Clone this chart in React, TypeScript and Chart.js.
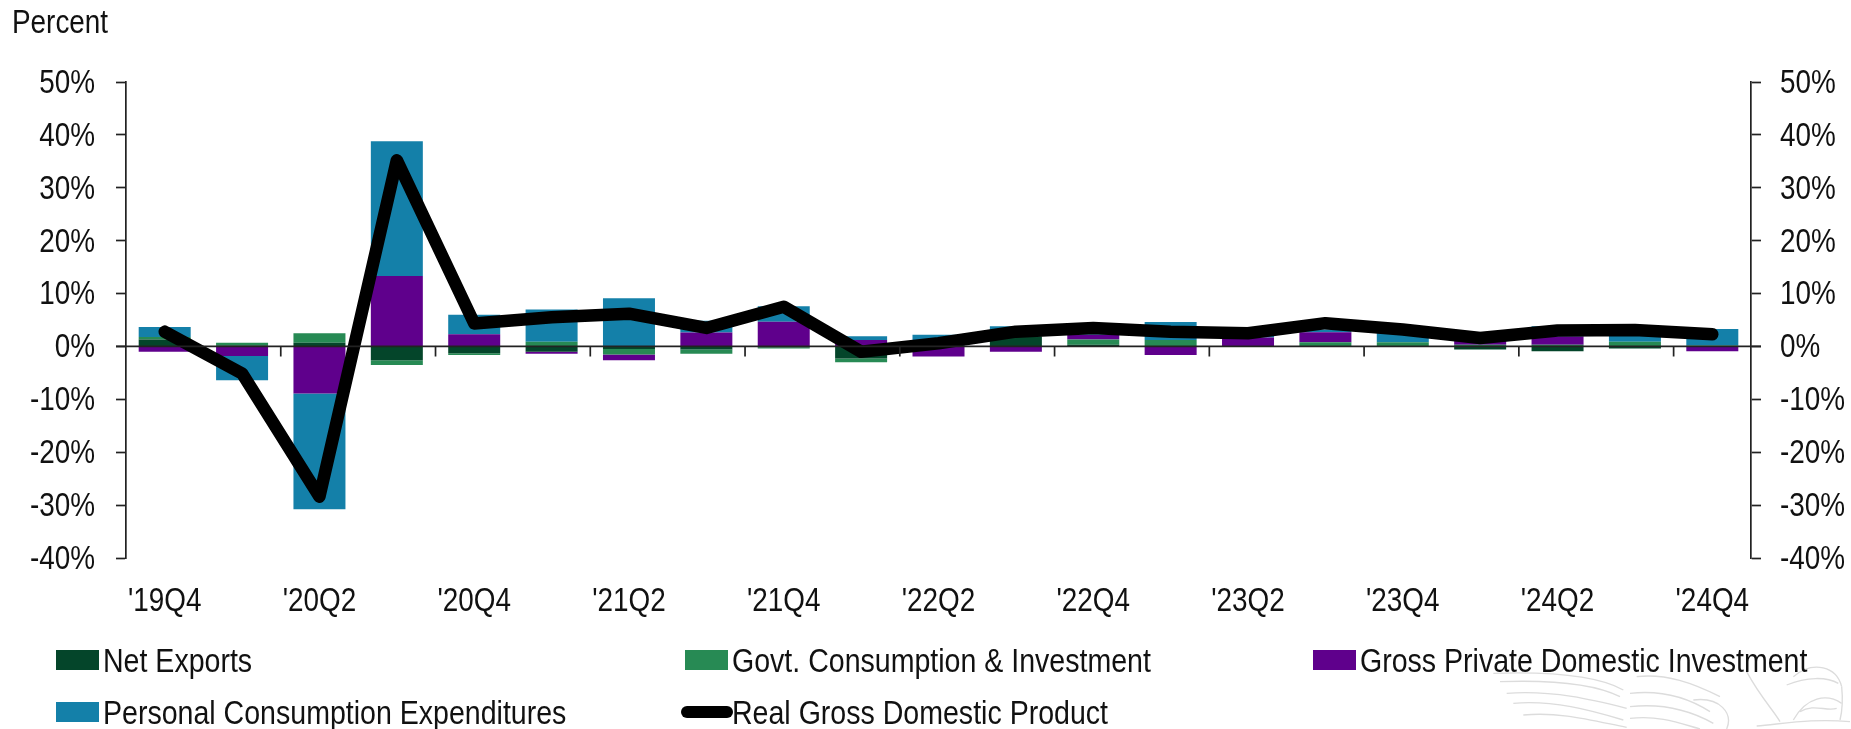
import React, { useEffect, useRef } from "react";
import { Chart, registerables } from "chart.js";

Chart.register(...registerables);

const categories = ["'19Q4","'20Q1","'20Q2","'20Q3","'20Q4","'21Q1","'21Q2","'21Q3","'21Q4","'22Q1","'22Q2","'22Q3","'22Q4","'23Q1","'23Q2","'23Q3","'23Q4","'24Q1","'24Q2","'24Q3","'24Q4"];
const netExports = [1.3,0.2,0.7,-2.6,-1.3,-1.0,-0.5,-0.6,-0.2,-2.3,0.0,1.9,0.3,0.1,0.0,0.1,0.1,-0.6,-0.9,-0.4,0.0];
const govt = [0.5,0.5,1.8,-0.9,-0.3,0.9,-1.0,-0.8,-0.2,-0.7,0.0,0.4,1.0,1.1,0.1,0.7,0.7,0.3,0.3,0.9,0.2];
const gpdi = [-1.0,-1.8,-8.9,13.3,2.3,-0.4,-1.1,2.65,4.65,1.2,-1.9,-1.0,0.9,-1.6,1.6,1.9,0.0,0.9,1.6,0.0,-0.9];
const pce = [1.9,-4.6,-21.9,25.5,3.7,6.1,9.1,2.2,2.95,0.75,2.2,1.5,0.8,3.4,0.5,0.5,2.5,0.6,1.9,2.2,3.1];
const realGdp = [2.8,-5.1,-28.4,35.2,4.35,5.5,6.2,3.5,7.5,-1.0,0.6,2.8,3.5,2.8,2.5,4.4,3.2,1.6,3.0,3.1,2.3];
const yTicks = [50,40,30,20,10,0,-10,-20,-30,-40];
const legendRows = [
  ["Net Exports", "Govt. Consumption & Investment", "Gross Private Domestic Investment"],
  ["Personal Consumption Expenditures", "Real Gross Domestic Product"],
];
const unitLabel = "Percent";

const axisColor = "#222222";
const textColor = "#111111";
const fontFamily = "'Liberation Sans', Arial, sans-serif";
const fontSize = 34;
const textSqueeze = 0.82;

const overlay = {
  id: "overlay",
  beforeDraw(chart: any) {
    // faint eagle watermark in the lower right corner
    const { ctx } = chart;
    ctx.save();
    ctx.translate(1480, 640);
    ctx.scale(1 / 3, 1 / 3);
    ctx.strokeStyle = "#dcdcdc";
    ctx.lineWidth = 4;
    const curves = [
      [40,100,200,95,350,105,430,150],
      [60,125,200,120,340,130,420,170],
      [80,160,220,150,340,180,440,205],
      [100,190,220,180,330,210,430,240],
      [130,225,240,215,330,240,440,262],
      [470,110,560,100,640,130,720,170],
      [450,160,540,150,620,170,690,215],
      [450,200,540,190,620,205,700,250],
      [450,235,540,225,600,250,660,267],
      [640,180,720,170,760,220,740,267],
      [800,95,840,170,880,210,900,245],
      [940,110,1000,60,1070,80,1085,140],
      [920,135,980,110,1040,110,1075,130],
      [1085,140,1090,190,1085,220,1080,240],
      [940,240,980,170,1040,160,1085,190],
      [960,215,1000,190,1040,215,1070,205],
      [830,258,920,250,1000,235,1110,245],
    ];
    curves.forEach(([a, b, c, d, e, f, g, h]) => {
      ctx.beginPath();
      ctx.moveTo(a, b);
      ctx.bezierCurveTo(c, d, e, f, g, h);
      ctx.stroke();
    });
    ctx.restore();
  },
  afterDatasetsDraw(chart: any) {
    const { ctx, scales } = chart;
    const x = scales.x, y = scales.y;
    const zero = y.getPixelForValue(0);
    ctx.save();
    ctx.strokeStyle = axisColor;
    ctx.lineWidth = 1.7;
    ctx.beginPath();
    ctx.moveTo(x.left - 10, zero);
    ctx.lineTo(x.right + 10, zero);
    const step = (x.right - x.left) / categories.length;
    for (let i = 2; i < categories.length; i += 2) {
      const px = x.left + step * i;
      ctx.moveTo(px, zero);
      ctx.lineTo(px, zero + 10);
    }
    ctx.stroke();
    ctx.restore();
  },
  afterDraw(chart: any) {
    const { ctx } = chart;
    const colLeft = [56, 685, 1313];
    const rowMid = [660, 712];
    ctx.save();
    ctx.font = `${fontSize}px ${fontFamily}`;
    ctx.textBaseline = "middle";
    ctx.textAlign = "left";
    legendRows.forEach((row, r) => {
      row.forEach((label, c) => {
        const d = chart.data.datasets.find((s: any) => s.label === label);
        const left = colLeft[c], cy = rowMid[r];
        if (d.type === "line") {
          ctx.strokeStyle = d.borderColor;
          ctx.lineWidth = 12;
          ctx.lineCap = "round";
          ctx.beginPath();
          ctx.moveTo(left + 2, cy);
          ctx.lineTo(left + 42, cy);
          ctx.stroke();
        } else {
          ctx.fillStyle = d.backgroundColor;
          ctx.fillRect(left, cy - 10, 43, 20);
        }
        ctx.fillStyle = textColor;
        ctx.save();
        ctx.translate(left + 47, cy + 1);
        ctx.scale(1.024, 1);
        ctx.fillText(label, 0, 0);
        ctx.restore();
      });
    });
    ctx.fillStyle = textColor;
    ctx.fillText(unitLabel, 12, 22);
    ctx.restore();
  },
};

const yAxis = (position: string, width: number, padding: number) => ({
  min: -40,
  max: 50,
  position,
  afterBuildTicks(a: any) { a.ticks = yTicks.map((value) => ({ value })); },
  afterFit(a: any) { a.width = width; },
  grid: { drawOnChartArea: false, tickColor: axisColor, tickLength: 10, tickWidth: 1.7 },
  border: { color: axisColor, width: 1.7 },
  ticks: { padding, color: textColor, font: { family: fontFamily, size: fontSize }, callback: (v: any) => `${v}%` },
});

export default function App() {
  const ref = useRef<HTMLCanvasElement>(null);
  useEffect(() => {
    // The reference text is tall and narrow: draw all text squeezed horizontally.
    const rawCtx: any = ref.current!.getContext("2d");
    const fill = rawCtx.fillText.bind(rawCtx);
    rawCtx.fillText = (t: string, x: number, y: number, m?: number) => {
      rawCtx.save();
      rawCtx.translate(x, y + 1.5);
      rawCtx.scale(textSqueeze, 1);
      if (m === undefined) fill(t, 0, 0);
      else fill(t, 0, 0, m);
      rawCtx.restore();
    };
    const chart = new Chart(ref.current!, {
      type: "bar",
      data: {
        labels: categories,
        datasets: [
          { label: "Net Exports", data: netExports, backgroundColor: "#04452a", stack: "s", order: 1 },
          { label: "Govt. Consumption & Investment", data: govt, backgroundColor: "#278a54", stack: "s", order: 1 },
          { label: "Gross Private Domestic Investment", data: gpdi, backgroundColor: "#5f008c", stack: "s", order: 1 },
          { label: "Personal Consumption Expenditures", data: pce, backgroundColor: "#1480a9", stack: "s", order: 1 },
          { type: "line", label: "Real Gross Domestic Product", data: realGdp, borderColor: "#000000", backgroundColor: "#000000", borderWidth: 12.5, pointRadius: 0, tension: 0, borderCapStyle: "round", borderJoinStyle: "round", order: 0 },
        ],
      } as any,
      options: {
        animation: false,
        responsive: false,
        layout: { padding: { top: 82, left: 0, right: 0, bottom: 0 } },
        plugins: { legend: { display: false }, tooltip: { enabled: false }, title: { display: false } },
        datasets: { bar: { barPercentage: 1, categoryPercentage: 0.672 } },
        scales: {
          x: {
            stacked: true,
            afterFit(a: any) { a.height = 171; },
            grid: { display: false },
            border: { display: false },
            ticks: {
              autoSkip: false,
              maxRotation: 0,
              padding: 14,
              color: textColor,
              font: { family: fontFamily, size: fontSize },
              callback(_v: any, i: number) { return i % 2 === 0 ? categories[i] : ""; },
            },
          },
          y: { stacked: true, ...yAxis("left", 126, 21) },
          y2: yAxis("right", 100, 19),
        },
      } as any,
      plugins: [overlay],
    });
    return () => chart.destroy();
  }, []);
  return (
    <div style={{ position: "absolute", left: 0, top: 0, width: 1851, height: 729 }}>
      <canvas ref={ref} width={1851} height={729} style={{ display: "block", width: 1851, height: 729 }} />
    </div>
  );
}
